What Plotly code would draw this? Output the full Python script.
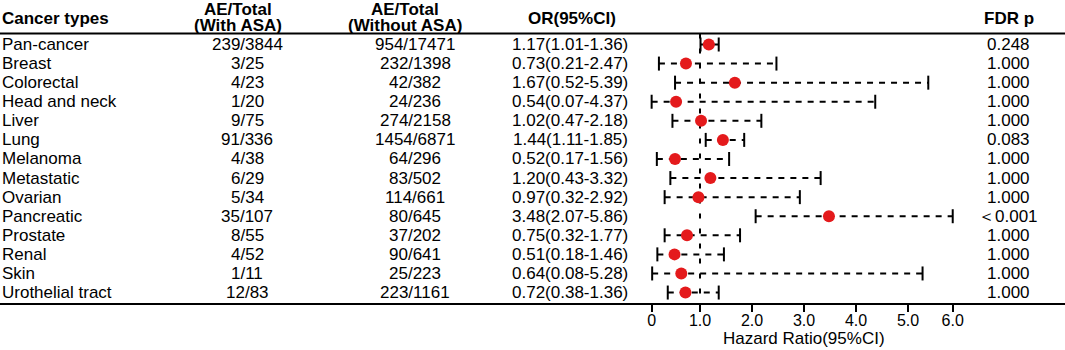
import plotly.graph_objects as go

# ---------------- data ----------------
cancer = ["Pan-cancer", "Breast", "Colorectal", "Head and neck", "Liver", "Lung",
          "Melanoma", "Metastatic", "Ovarian", "Pancreatic", "Prostate", "Renal",
          "Skin", "Urothelial tract"]
ae_with = ["239/3844", "3/25", "4/23", "1/20", "9/75", "91/336", "4/38", "6/29",
           "5/34", "35/107", "8/55", "4/52", "1/11", "12/83"]
ae_without = ["954/17471", "232/1398", "42/382", "24/236", "274/2158", "1454/6871",
              "64/296", "83/502", "114/661", "80/645", "37/202", "90/641", "25/223",
              "223/1161"]
or_val = [1.17, 0.73, 1.67, 0.54, 1.02, 1.44, 0.52, 1.20, 0.97, 3.48, 0.75, 0.51, 0.64, 0.72]
ci_lo = [1.01, 0.21, 0.52, 0.07, 0.47, 1.11, 0.17, 0.43, 0.32, 2.07, 0.32, 0.18, 0.08, 0.38]
ci_hi = [1.36, 2.47, 5.39, 4.37, 2.18, 1.85, 1.56, 3.32, 2.92, 5.86, 1.77, 1.46, 5.28, 1.36]
fdr_p = ["0.248", "1.000", "1.000", "1.000", "1.000", "0.083", "1.000", "1.000",
         "1.000", "＜0.001", "1.000", "1.000", "1.000", "1.000"]
tick_text = ["0", "1.0", "2.0", "3.0", "4.0", "5.0", "6.0"]

# ---------------- layout geometry ----------------
W, H = 1065, 350
MB = 47
PH = H - MB            # plot area height in px
X0PX, PXU = 648.0, 52.0  # pixel of x=0 and pixels per unit
ROW0, ROWH = 44.5, 19.08
n = len(cancer)
yv = [n - 1 - i for i in range(n)]


def py(p):
    """pixel row -> y data value"""
    return (n - 1) - (p - ROW0) / ROWH


def ppaper(p):
    return 1 - p / PH


FONT = "Liberation Sans, Arial, sans-serif"
RED = "#E41A1C"

fig = go.Figure()

# dashed CI lines
lx, ly = [], []
for l, h, y in zip(ci_lo, ci_hi, yv):
    lx += [l, h, None]
    ly += [y, y, None]
fig.add_trace(go.Scatter(x=lx, y=ly, mode="lines", connectgaps=False,
                         line=dict(color="black", width=2, dash="6px,6px"),
                         hoverinfo="skip", showlegend=False))
# caps
fig.add_trace(go.Scatter(x=ci_lo + ci_hi, y=yv + yv, mode="markers",
                         marker=dict(symbol="line-ns", size=10,
                                     line=dict(color="black", width=2)),
                         hoverinfo="skip", showlegend=False))
# points
fig.add_trace(go.Scatter(x=or_val, y=yv, mode="markers",
                         marker=dict(symbol="circle", size=12, color=RED,
                                     line=dict(width=0)),
                         showlegend=False))

ann = []
fs = 17
# header
hdr_y = ppaper(18)
ann.append(dict(x=0, y=hdr_y, xref="paper", yref="paper", text="<b>Cancer types</b>",
                xanchor="left", yanchor="middle", showarrow=False))
for cx, l2 in [(238, "(With ASA)"), (405, "(Without ASA)")]:
    ann.append(dict(x=cx / W, y=ppaper(9), xref="paper", yref="paper", text="<b>AE/Total</b>",
                    xanchor="center", yanchor="middle", showarrow=False))
    ann.append(dict(x=cx / W, y=ppaper(25.5), xref="paper", yref="paper", text=f"<b>{l2}</b>",
                    xanchor="center", yanchor="middle", showarrow=False))
ann.append(dict(x=572 / W, y=hdr_y, xref="paper", yref="paper", text="<b>OR(95%CI)</b>",
                xanchor="center", yanchor="middle", showarrow=False))
ann.append(dict(x=1009 / W, y=hdr_y, xref="paper", yref="paper", text="<b>FDR p</b>",
                xanchor="center", yanchor="middle", showarrow=False))

# body
for i in range(n):
    y = yv[i]
    ann.append(dict(x=0, y=y, xref="paper", yref="y", text=cancer[i],
                    xanchor="left", yanchor="middle", showarrow=False))
    ann.append(dict(x=247 / W, y=y, xref="paper", yref="y", text=ae_with[i],
                    xanchor="center", yanchor="middle", showarrow=False))
    ann.append(dict(x=415 / W, y=y, xref="paper", yref="y", text=ae_without[i],
                    xanchor="center", yanchor="middle", showarrow=False))
    ann.append(dict(x=570 / W, y=y, xref="paper", yref="y",
                    text=f"{or_val[i]:.2f}({ci_lo[i]:.2f}-{ci_hi[i]:.2f})",
                    xanchor="center", yanchor="middle", showarrow=False))
    ann.append(dict(x=1008 / W, y=y, xref="paper", yref="y", text=fdr_p[i],
                    xanchor="center", yanchor="middle", showarrow=False))

# axis title
ann.append(dict(x=3, y=ppaper(338), xref="x", yref="paper", text="Hazard Ratio(95%CI)",
                xanchor="center", yanchor="middle", showarrow=False))

shapes = [
    dict(type="line", xref="paper", yref="paper", x0=0, x1=1,
         y0=ppaper(33.5), y1=ppaper(33.5), line=dict(color="black", width=2)),
    dict(type="line", xref="x", yref="paper", x0=1, x1=1,
         y0=ppaper(33.5), y1=0, line=dict(color="black", width=2, dash="5px,10px"),
         layer="below"),
]

tickvals = [min(ci_lo), 1, 2, 3, 4, 5, max(ci_hi)]

fig.update_layout(
    width=W, height=H,
    margin=dict(l=0, r=0, t=0, b=MB, pad=0),
    paper_bgcolor="white", plot_bgcolor="white",
    font=dict(family=FONT, size=fs, color="black"),
    annotations=ann, shapes=shapes, showlegend=False,
    xaxis=dict(range=[-X0PX / PXU, (W - X0PX) / PXU], domain=[0, 1],
               showgrid=False, zeroline=False, showline=True, linecolor="black",
               linewidth=2, ticks="outside", ticklen=7, tickwidth=2, tickcolor="black",
               tickvals=tickvals, ticktext=tick_text, ticklabelstandoff=-5,
               tickfont=dict(family=FONT, size=16, color="black"), fixedrange=True),
    yaxis=dict(range=[py(PH), py(0)], showgrid=False, zeroline=False, showline=False,
               showticklabels=False, ticks="", fixedrange=True),
)

fig.write_html("out.html", config={"displayModeBar": False},
               post_script="document.body.style.margin='0';document.body.style.overflow='hidden';")
